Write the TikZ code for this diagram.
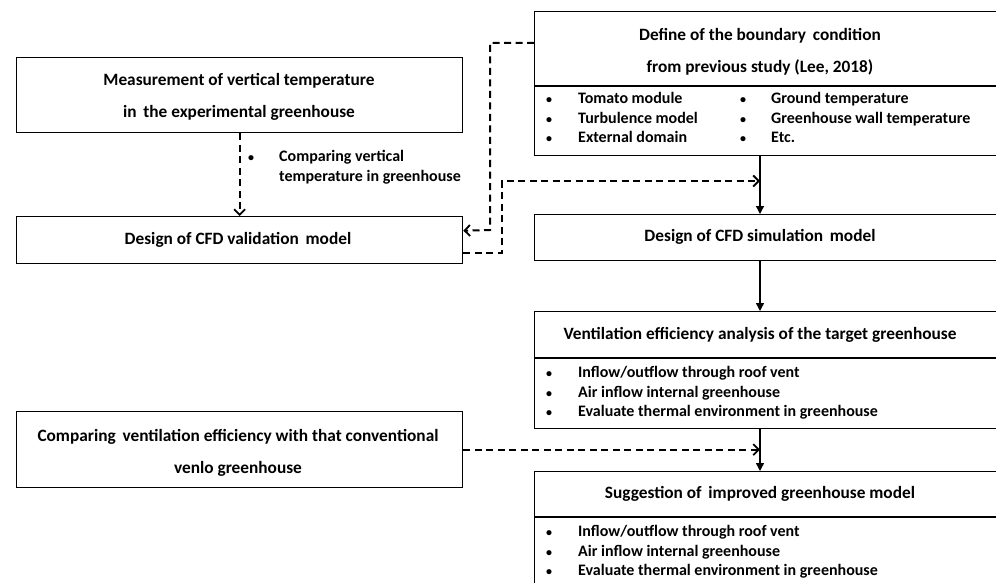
\documentclass[tikz,border=0pt]{standalone}
\usepackage{fontspec}
\setmainfont{Carlito}
\usetikzlibrary{arrows.meta}
\newcommand{\bul}{{\fontsize{12}{12}\selectfont •}}
\begin{document}
\begin{tikzpicture}[x=1pt,y=-1pt,
  box/.style={draw, line width=1.3pt, anchor=north west, inner sep=0pt},
  ttl/.style={inner sep=0pt, text height=12pt, text depth=4pt, font=\fontsize{17.3}{20}\selectfont\bfseries},
  itm/.style={anchor=west, inner sep=0pt, text height=11pt, text depth=4pt, font=\fontsize{16}{19}\selectfont\bfseries},
  dsh/.style={line width=2pt, dash pattern=on 7pt off 4.5pt},
  dar/.style={dsh, -{Straight Barb[length=5.5pt,width=11pt,line width=1.8pt]}},
  sar/.style={line width=1.3pt, -{Triangle[length=8pt,width=8pt]}},
  div/.style={line width=1.3pt}
]
\useasboundingbox (0,0) rectangle (996,583);
\clip (0,0) rectangle (996,583);
\fill[white] (0,0) rectangle (996,583);
\coordinate (ax) at (760,0);

% left boxes
\node[box, minimum width=446pt, minimum height=75pt] (m) at (16,57) {};
\node[ttl] (mt1) at (239,82) {Measurement of vertical temperature};
\node[ttl] (mt2) at (239,114) {in\, the experimental greenhouse};

\node[box, minimum width=446pt, minimum height=47pt] (v) at (16,216) {};
\node[ttl] (vt) at (238,240) {Design of CFD validation\, model};

\node[box, minimum width=446pt, minimum height=76pt] (cmp) at (16,411) {};
\node[ttl] (ct1) at (238,437) {Comparing\, ventilation efficiency with that conventional};
\node[ttl] (ct2) at (238,469) {venlo greenhouse};

% label on the left dashed arrow
\node[itm] (lb) at (248,158) {\bul};
\node[itm] (lt1) at (279,158) {Comparing vertical};
\node[itm] (lt2) at (279,178) {temperature in greenhouse};

% right boxes
\node[box, minimum width=470pt, minimum height=144pt] (def) at (534,11) {};
\draw[div] (def.west |- 0,86) -- (def.east |- 0,86);
\node[ttl] (dt1) at (760,37) {Define of the boundary\, condition};
\node[ttl] (dt2) at (760,69) {from previous study (Lee, 2018)};
\node[itm] (d1b) at (546,100) {\bul};
\node[itm] (d1) at (578,100) {Tomato module};
\node[itm] (d2b) at (546,120) {\bul};
\node[itm] (d2) at (578,120) {Turbulence model};
\node[itm] (d3b) at (546,139) {\bul};
\node[itm] (d3) at (578,139) {External domain};
\node[itm] (d4b) at (740,100) {\bul};
\node[itm] (d4) at (771,100) {Ground temperature};
\node[itm] (d5b) at (740,120) {\bul};
\node[itm] (d5) at (771,120) {Greenhouse wall temperature};
\node[itm] (d6b) at (740,139) {\bul};
\node[itm] (d6) at (771,139) {Etc.};

\node[box, minimum width=470pt, minimum height=46pt] (sim) at (534,214) {};
\node[ttl] (st) at (760,237) {Design of CFD simulation\, model};

\node[box, minimum width=470pt, minimum height=117pt] (ven) at (534,311) {};
\draw[div] (ven.west |- 0,358) -- (ven.east |- 0,358);
\node[ttl] (vnt) at (760,335) {Ventilation efficiency analysis of the target greenhouse};
\node[itm] (v1b) at (546,374) {\bul};
\node[itm] (v1) at (578,374) {Inflow/outflow through roof vent};
\node[itm] (v2b) at (546,394) {\bul};
\node[itm] (v2) at (578,394) {Air inflow internal greenhouse};
\node[itm] (v3b) at (546,413) {\bul};
\node[itm] (v3) at (578,413) {Evaluate thermal environment in greenhouse};

\node[box, minimum width=470pt, minimum height=130pt] (sug) at (534,471) {};
\draw[div] (sug.west |- 0,517) -- (sug.east |- 0,517);
\node[ttl] (sgt) at (760,494) {Suggestion of\, improved greenhouse model};
\node[itm] (s1b) at (546,533) {\bul};
\node[itm] (s1) at (578,533) {Inflow/outflow through roof vent};
\node[itm] (s2b) at (546,553) {\bul};
\node[itm] (s2) at (578,553) {Air inflow internal greenhouse};
\node[itm] (s3b) at (546,572) {\bul};
\node[itm] (s3) at (578,572) {Evaluate thermal environment in greenhouse};

% solid connectors
\draw[sar] (ax |- def.south) -- (ax |- sim.north);
\draw[sar] (ax |- sim.south) -- (ax |- ven.north);
\draw[sar] (ax |- ven.south) -- (ax |- sug.north);

% dashed connectors
\coordinate (j1) at (490,0);
\coordinate (j2) at (502,0);
\draw[dar] (m.south) -- (v.north);
\draw[dar] ([yshift=-32pt]def.north west) -| (j1 |- 0,230) -- ([yshift=9.5pt]v.east);
\draw[dar] ([yshift=-12.5pt]v.east) -| (j2 |- 0,181) -- (ax |- 0,181);
\draw[dar] (cmp.east) -- (ax |- cmp.east);
\end{tikzpicture}
\end{document}
